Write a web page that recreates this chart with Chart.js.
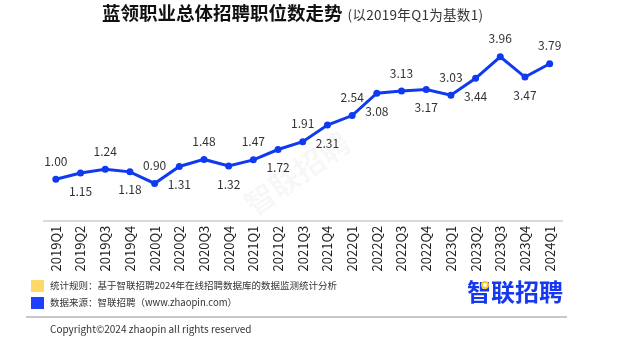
<!DOCTYPE html>
<html>
<head>
<meta charset="utf-8">
<script src="https://cdn.jsdelivr.net/npm/chart.js@4.4.1/dist/chart.umd.min.js"></script>
<style>
  body { margin: 0; background: #fff; font-family: "Noto Sans CJK SC", "Noto Sans", sans-serif; }
  #wrap { position: relative; width: 633px; height: 346px; overflow: hidden; }
  #chartBox { position: absolute; left: 0; top: 0; width: 633px; height: 346px; }
  .title { position: absolute; left: 102px; top: 0px; font-size: 18.5px; line-height: 24px; font-weight: bold; color: #111; white-space: nowrap; }
  .title span { font-size: 13.5px; font-weight: normal; color: #333; margin-left: 5px; letter-spacing: 0.3px; }
  .watermark { position: absolute; left: 236px; top: 150px; font-size: 30px; font-weight: bold; color: rgba(0,0,0,0.04); transform: rotate(-35deg); white-space: nowrap; }
  .note { position: absolute; left: 31px; font-size: 9.5px; line-height: 13px; color: #333; white-space: nowrap; }
  .note i { display: inline-block; width: 13px; height: 12px; vertical-align: middle; margin-right: 6px; }
  .sep { position: absolute; left: 26px; top: 316px; width: 541px; height: 0; border-top: 2px solid #c8c8c8; }
  .copy { position: absolute; left: 50px; top: 322px; font-size: 10px; line-height: 14px; color: #333; }
  .logo { position: absolute; left: 467px; top: 276px; font-size: 24px; line-height: 30px; font-weight: bold; color: #1638f0; }
  .dot { position: absolute; left: 481px; top: 281px; width: 4px; height: 4px; border: 2px solid #ffc81e; border-radius: 50%; background: #fff; }
</style>
</head>
<body>
<div id="wrap">
  <div class="watermark">智联招聘</div>
  <div id="chartBox"><canvas id="myChart"></canvas></div>
  <div class="title">蓝领职业总体招聘职位数走势<span>(以2019年Q1为基数1)</span></div>
  <div class="note" style="top:279px"><i style="background:#ffd966"></i>统计规则：基于智联招聘2024年在线招聘数据库的数据监测统计分析</div>
  <div class="note" style="top:296px"><i style="background:#1f3fff"></i>数据来源：智联招聘（www.zhaopin.com）</div>
  <div class="logo">智联招聘</div>
  <div class="dot"></div>
  <div class="sep"></div>
  <div class="copy">Copyright©2024 zhaopin all rights reserved</div>
</div>
<script>
// 季度
var quarters = ["2019Q1", "2019Q2", "2019Q3", "2019Q4", "2020Q1", "2020Q2", "2020Q3", "2020Q4",
    "2021Q1", "2021Q2", "2021Q3", "2021Q4", "2022Q1", "2022Q2", "2022Q3", "2022Q4",
    "2023Q1", "2023Q2", "2023Q3", "2023Q4", "2024Q1"]
// 招聘职位数指数 (2019Q1 = 1)
var jobIndex = [1.00, 1.15, 1.24, 1.18, 0.90, 1.31, 1.48, 1.32,
    1.47, 1.72, 1.91, 2.31, 2.54, 3.08, 3.13, 3.17,
    3.03, 3.44, 3.96, 3.47, 3.79]

var blue = "#0f3af0"

// 数值标签：偶数在上、奇数在下
var valueLabels = {
    id: "valueLabels",
    afterDatasetsDraw: function(chart){
        var ctx = chart.ctx
        var meta = chart.getDatasetMeta(0)
        ctx.save()
        ctx.font = "12px 'Noto Sans CJK SC', 'Noto Sans', sans-serif"
        ctx.fillStyle = "#333"
        ctx.textAlign = "center"
        ctx.textBaseline = "middle"
        meta.data.forEach(function(pt, i){
            var dy = i % 2 === 0 ? -18 : 18
            ctx.fillText(jobIndex[i].toFixed(2), pt.x, pt.y + dy)
        })
        ctx.restore()
    }
}

new Chart(document.getElementById("myChart"), {
    type: "line",
    data: {
        labels: quarters,
        datasets: [{
            data: jobIndex,
            borderColor: blue,
            backgroundColor: blue,
            borderWidth: 3,
            pointRadius: 3.5,
            pointBackgroundColor: blue,
            pointBorderWidth: 0,
            tension: 0
        }]
    },
    options: {
        responsive: true,
        maintainAspectRatio: false,
        animation: false,
        layout: { padding: { left: 43.5, right: 71, top: 34.4, bottom: 70.3 } },
        plugins: { legend: { display: false }, tooltip: { enabled: false } },
        scales: {
            x: {
                offset: true,
                grid: { display: false, drawTicks: false },
                border: { display: true, color: "#d9d9d9", width: 2 },
                ticks: {
                    minRotation: 90, maxRotation: 90, autoSkip: false, padding: 5,
                    color: "#222",
                    font: { size: 13, family: "'Noto Sans CJK SC', 'Noto Sans', sans-serif" }
                },
                afterFit: function(scale){ scale.height = 55 }
            },
            y: { display: false, min: 0, max: 4.5 }
        }
    },
    plugins: [valueLabels]
})
</script>
</body>
</html>
